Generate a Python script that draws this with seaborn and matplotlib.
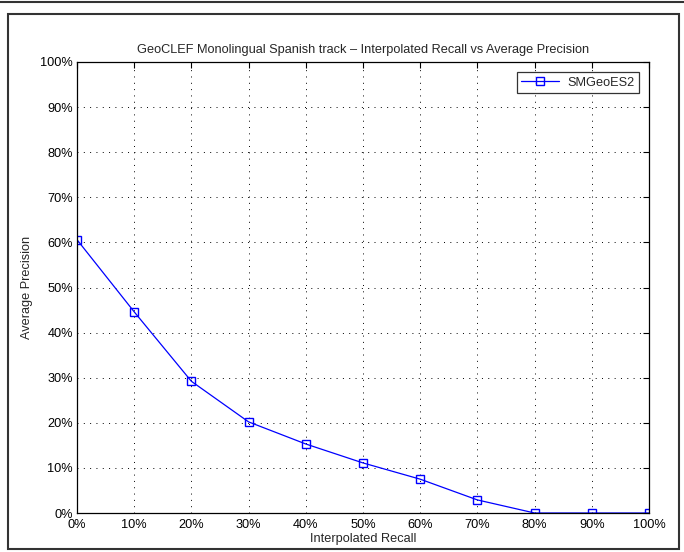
import matplotlib
matplotlib.use("Agg")
import matplotlib.pyplot as plt
import seaborn as sns
import pandas as pd
from matplotlib.lines import Line2D
from matplotlib.patches import Rectangle
from matplotlib.ticker import FuncFormatter

recall = [0, 10, 20, 30, 40, 50, 60, 70, 80, 90, 100]
precision = [60.6, 44.6, 29.2, 20.2, 15.3, 11.1, 7.5, 2.9, 0.0, 0.0, 0.0]
series_name = "SMGeoES2"
title = "GeoCLEF Monolingual Spanish track \u2013 Interpolated Recall vs Average Precision"
xlabel = "Interpolated Recall"
ylabel = "Average Precision"

sns.set_style("white")
plt.rcParams['font.family'] = ['Liberation Sans', 'DejaVu Sans']
FS = 9.2
plt.rcParams['font.size'] = FS

df = pd.DataFrame({"recall": recall, "precision": precision, "series": series_name})

fig = plt.figure(figsize=(6.84, 5.52), dpi=100)
ax = fig.add_axes([77/684, 1 - 513/552, (649-77)/684, (513-62)/552])

sns.lineplot(data=df, x="recall", y="precision", hue="series", palette=["#0000ff"],
             marker="s", markersize=6, markerfacecolor="none", markeredgecolor="#0000ff",
             markeredgewidth=1.0, linewidth=0.9, ax=ax)

ax.set_xlim(0, 100)
ax.set_ylim(0, 100)
ax.set_xticks(range(0, 101, 10))
ax.set_yticks(range(0, 101, 10))
pct = FuncFormatter(lambda v, p: f"{int(round(v))}%")
ax.xaxis.set_major_formatter(pct)
ax.yaxis.set_major_formatter(pct)
ax.tick_params(direction="in", length=4, width=0.8, top=True, right=True,
               labelsize=FS, colors="black", pad=3)
ax.tick_params(axis="x", pad=4)
ax.grid(True, linestyle=(0, (1, 5.5)), color="black", linewidth=0.7)
for s in ax.spines.values():
    s.set_visible(True)
    s.set_color("black")
    s.set_linewidth(0.9)

ax.set_title(title, fontsize=FS, pad=6.5)
ax.set_xlabel(xlabel, fontsize=FS, labelpad=2)
ax.set_ylabel(ylabel, fontsize=FS, labelpad=5)

leg = ax.legend(loc="upper right", fontsize=FS, frameon=True, fancybox=False,
                edgecolor="black", borderaxespad=0.8, handlelength=3.0,
                borderpad=0.35, handletextpad=0.6)
leg.get_frame().set_linewidth(0.9)

# outer frame decoration
fig.add_artist(Line2D([0, 1], [1 - 2/552, 1 - 2/552], transform=fig.transFigure,
                      color="#333333", linewidth=1.5))
fig.add_artist(Rectangle((8/684, 1 - 549/552), (679-8)/684, (549-14)/552,
                         transform=fig.transFigure, fill=False,
                         edgecolor="#333333", linewidth=1.5))

fig.savefig("out.png", dpi=100)
